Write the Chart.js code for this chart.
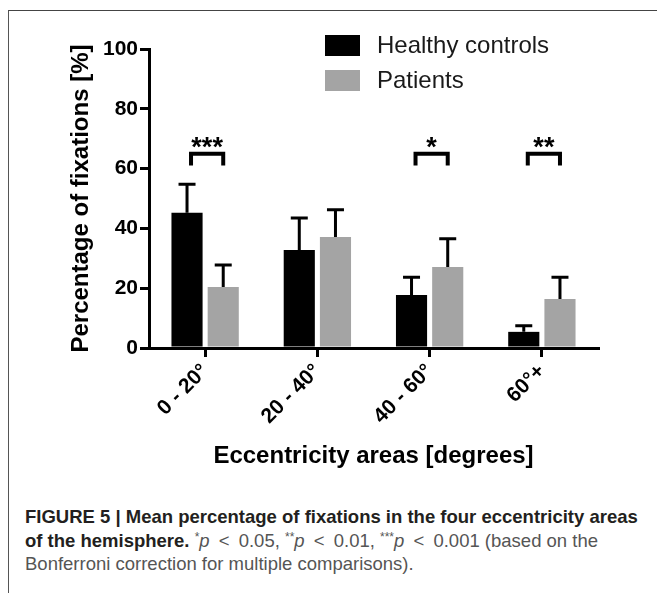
<!DOCTYPE html>
<html>
<head>
<meta charset="utf-8">
<script src="https://cdn.jsdelivr.net/npm/chart.js@4.4.0/dist/chart.umd.min.js"></script>
<style>
  body { margin: 0; background: #fff; }
  #wrap { position: relative; width: 657px; height: 596px; overflow: hidden; }
  #frame { position: absolute; left: 8px; top: 10px; width: 660px; height: 582px;
           border-left: 1.5px solid #555; border-top: 1.5px solid #444; }
  #chartBox { position: absolute; left: 0; top: 0; width: 657px; height: 480px; }
  #caption { position: absolute; left: 25px; top: 505px; width: 632px;
             font-family: "Liberation Sans", Arial, sans-serif; font-size: 18.5px;
             line-height: 23.5px; color: #555; white-space: nowrap; }
  #caption b { color: #231f20; }
  #caption sup { font-size: 12px; vertical-align: 6px; line-height: 0; }
  #caption .lt { margin: 0 4px; }
</style>
</head>
<body>
<div id="wrap">
  <div id="frame"></div>
  <div id="chartBox"><canvas id="fixChart"></canvas></div>
  <div id="caption">
    <b>FIGURE 5 | Mean percentage of fixations in the four eccentricity areas<br>of the hemisphere.</b>
    <sup>*</sup><i>p</i> <span class="lt">&lt;</span> 0.05, <sup>**</sup><i>p</i> <span class="lt">&lt;</span> 0.01, <sup>***</sup><i>p</i> <span class="lt">&lt;</span> 0.001 (based on the<br>Bonferroni correction for multiple comparisons).
  </div>
</div>
<script>
const categories = ['0 - 20°', '20 - 40°', '40 - 60°', '60°+'];
const healthyMean = [45.2, 32.8, 17.7, 5.4];
const healthyErr = [9.6, 10.7, 6.0, 2.0];
const patientMean = [20.4, 37.1, 27.1, 16.4];
const patientErr = [7.4, 9.1, 9.4, 7.3];
const sigLabels = ['***', '', '*', '**'];
const yTicks = [0, 20, 40, 60, 80, 100];

const errors = [healthyErr, patientErr];

// upper error bars with caps
const errorBars = {
    id: 'errorBars',
    afterDatasetsDraw(chart) {
        const ctx = chart.ctx;
        const y = chart.scales.y;
        ctx.save();
        ctx.strokeStyle = '#000';
        ctx.lineWidth = 3;
        chart.data.datasets.forEach((ds, i) => {
            const meta = chart.getDatasetMeta(i);
            meta.data.forEach((bar, j) => {
                const top = y.getPixelForValue(ds.data[j] + errors[i][j]);
                ctx.beginPath();
                ctx.moveTo(bar.x, bar.y);
                ctx.lineTo(bar.x, top);
                ctx.moveTo(bar.x - 8.5, top);
                ctx.lineTo(bar.x + 8.5, top);
                ctx.stroke();
            });
        });
        ctx.restore();
    }
};

// significance brackets + stars
const sigMarks = {
    id: 'sigMarks',
    afterDatasetsDraw(chart) {
        const ctx = chart.ctx;
        const y = chart.scales.y;
        const h = chart.getDatasetMeta(0).data;
        const p = chart.getDatasetMeta(1).data;
        const yTop = y.getPixelForValue(65);
        const yLeg = y.getPixelForValue(61);
        ctx.save();
        ctx.strokeStyle = '#000';
        ctx.fillStyle = '#000';
        ctx.lineWidth = 4;
        ctx.lineJoin = 'miter';
        ctx.font = 'bold 27px "Liberation Sans", Arial, sans-serif';
        ctx.textAlign = 'center';
        ctx.textBaseline = 'alphabetic';
        sigLabels.forEach((s, j) => {
            if (!s) return;
            const x1 = h[j].x + 4, x2 = p[j].x;
            ctx.beginPath();
            ctx.moveTo(x1, yLeg);
            ctx.lineTo(x1, yTop);
            ctx.lineTo(x2, yTop);
            ctx.lineTo(x2, yLeg);
            ctx.stroke();
            ctx.fillText(s, (x1 + x2) / 2, yTop + 2);
        });
        ctx.restore();
    }
};

// legend drawn inside the plot, upper right
const boxLegend = {
    id: 'boxLegend',
    afterDraw(chart) {
        const ctx = chart.ctx;
        const a = chart.chartArea;
        const bx = a.left + 176;
        ctx.save();
        ctx.font = '24px "Liberation Sans", Arial, sans-serif';
        ctx.textBaseline = 'middle';
        ctx.textAlign = 'left';
        chart.data.datasets.forEach((ds, i) => {
            const by = a.top - 14 + i * 35;
            ctx.fillStyle = ds.backgroundColor;
            ctx.fillRect(bx, by, 35, 21);
            ctx.fillStyle = '#1a1a1a';
            ctx.fillText(ds.label, bx + 52, by + 11);
        });
        ctx.restore();
    }
};

const ctx = document.getElementById('fixChart').getContext('2d');
new Chart(ctx, {
    type: 'bar',
    data: {
        labels: categories,
        datasets: [{
            label: 'Healthy controls',
            data: healthyMean,
            backgroundColor: '#000000',
            categoryPercentage: 0.645,
            barPercentage: 0.86
        }, {
            label: 'Patients',
            data: patientMean,
            backgroundColor: '#a4a4a4',
            categoryPercentage: 0.645,
            barPercentage: 0.86
        }]
    },
    options: {
        responsive: true,
        maintainAspectRatio: false,
        animation: false,
        layout: { padding: { left: 10, right: 59, top: 49, bottom: 0 } },
        plugins: {
            legend: { display: false },
            tooltip: { enabled: false }
        },
        scales: {
            x: {
                afterFit(scale) { scale.height = 132; },
                grid: {
                    display: true,
                    drawOnChartArea: false,
                    drawTicks: true,
                    offset: false,
                    tickLength: 9,
                    color: '#000',
                    lineWidth: 3
                },
                border: { display: true, color: '#000', width: 3 },
                ticks: {
                    color: '#000',
                    maxRotation: 45,
                    minRotation: 45,
                    padding: 2,
                    font: { family: '"Liberation Sans", Arial, sans-serif', size: 21, weight: 'bold' }
                },
                title: {
                    display: true,
                    text: 'Eccentricity areas [degrees]',
                    color: '#000',
                    padding: { top: 0, bottom: 9 },
                    font: { family: '"Liberation Sans", Arial, sans-serif', size: 24, weight: 'bold' }
                }
            },
            y: {
                min: 0,
                max: 100,
                afterFit(scale) { scale.width = 139; },
                afterBuildTicks(scale) { scale.ticks = yTicks.map(v => ({ value: v })); },
                grid: {
                    display: true,
                    drawOnChartArea: false,
                    drawTicks: true,
                    tickLength: 9,
                    color: '#000',
                    lineWidth: 3
                },
                border: { display: true, color: '#000', width: 3 },
                ticks: {
                    color: '#000',
                    padding: 2,
                    font: { family: '"Liberation Sans", Arial, sans-serif', size: 21, weight: 'bold' }
                },
                title: {
                    display: true,
                    text: 'Percentage of fixations [%]',
                    color: '#000',
                    padding: { top: 57, bottom: 0 },
                    font: { family: '"Liberation Sans", Arial, sans-serif', size: 24, weight: 'bold' }
                }
            }
        }
    },
    plugins: [errorBars, sigMarks, boxLegend]
});
</script>
</body>
</html>
